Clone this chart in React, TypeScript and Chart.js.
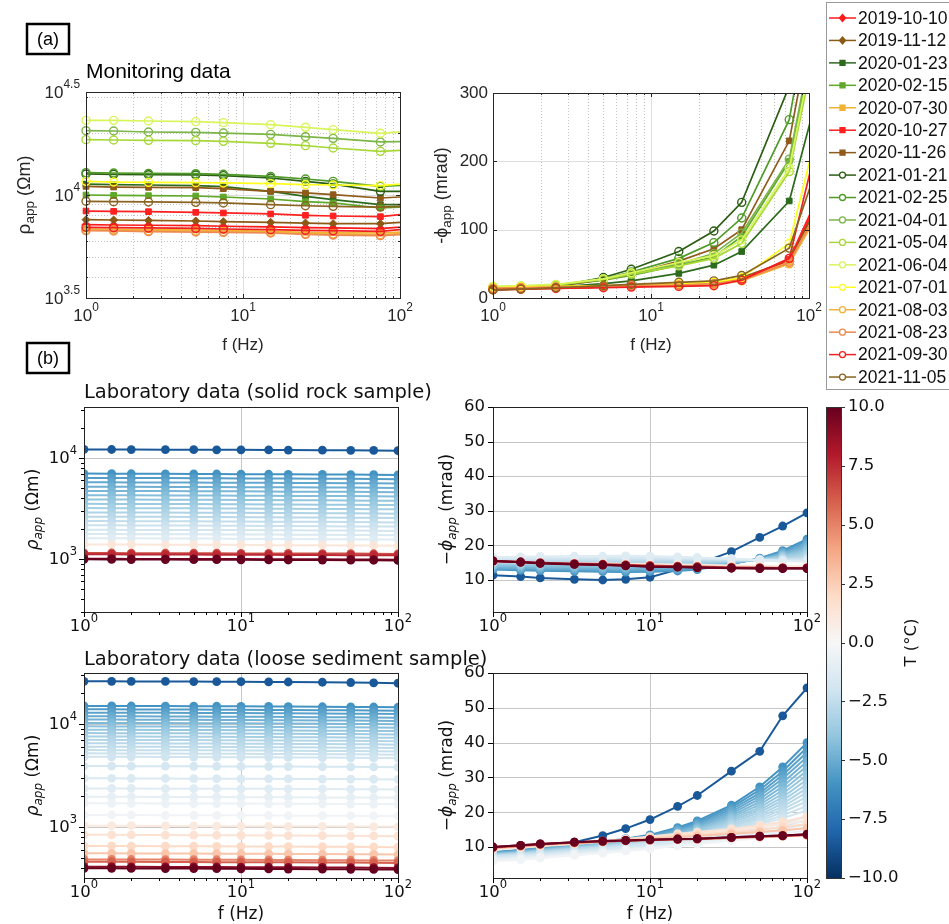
import React, { useEffect, useRef } from 'react';
import { Chart, registerables } from 'chart.js';
Chart.register(...registerables);

const W = 949;
const H = 924;

// ---------------- (a) Monitoring data ----------------
const MON_FREQ = [1, 1.5, 2.5, 5, 7.5, 15, 25, 37.5, 75, 150];
const MON_DATES = ['2019-10-10', '2019-11-12', '2020-01-23', '2020-02-15', '2020-07-30', '2020-10-27', '2020-11-26', '2021-01-21', '2021-02-25', '2021-04-01', '2021-05-04', '2021-06-04', '2021-07-01', '2021-08-03', '2021-08-23', '2021-09-30', '2021-11-05'];
const MON_RHO = [
  [7180, 7150, 7130, 7100, 7050, 7000, 6940, 6920, 6870, 7130],
  [7590, 7560, 7530, 7480, 7420, 7370, 7310, 7260, 7260, 7530],
  [11300, 11220, 11180, 11100, 10970, 10420, 9850, 9490, 8980, 8980],
  [10000, 9960, 9930, 9890, 9780, 9560, 9280, 9150, 8650, 8870],
  [6840, 6820, 6790, 6760, 6740, 6660, 6590, 6570, 6540, 6710],
  [8360, 8330, 8300, 8240, 8180, 8090, 7970, 7910, 7850, 8270],
  [11010, 10930, 10890, 10850, 10730, 10420, 10230, 10040, 9670, 9930],
  [12650, 12600, 12550, 12510, 12420, 12090, 11650, 11300, 10420, 10420],
  [12840, 12790, 12740, 12690, 12600, 12320, 11960, 11650, 11010, 11300],
  [20520, 20450, 20220, 20140, 19990, 19700, 19190, 18840, 18090, 18250],
  [18560, 18490, 18420, 18360, 18220, 17820, 17360, 16910, 16290, 16720],
  [23040, 23040, 22870, 22700, 22450, 21950, 21310, 20760, 19930, 20680],
  [11650, 11560, 11520, 11480, 11440, 11350, 11220, 11180, 11100, 11560],
  [6790, 6760, 6710, 6690, 6640, 6590, 6490, 6470, 6420, 6610],
  [6710, 6690, 6640, 6610, 6590, 6540, 6440, 6390, 6350, 6540],
  [6970, 6940, 6920, 6890, 6840, 6790, 6740, 6710, 6660, 6970],
  [9320, 9280, 9250, 9210, 9150, 8980, 8870, 8810, 8740, 8910],
];
const MON_PHI = [
  [13, 14, 15, 16, 17, 18, 20, 27, 55, 199],
  [12, 13, 14, 16, 17, 19, 22, 30, 55, 188],
  [13, 14, 16, 21, 25, 36, 48, 68, 142, 404],
  [15, 16, 18, 26, 33, 48, 60, 90, 200, 540],
  [14, 15, 16, 17, 18, 19, 21, 28, 52, 174],
  [13, 14, 15, 16, 17, 18, 19, 27, 57, 208],
  [13, 14, 17, 27, 35, 54, 72, 100, 230, 600],
  [12, 14, 17, 30, 42, 68, 98, 140, 310, 700],
  [14, 15, 18, 28, 38, 58, 81, 117, 261, 650],
  [16, 17, 19, 28, 36, 50, 65, 95, 203, 560],
  [16, 17, 19, 27, 35, 47, 58, 80, 185, 520],
  [17, 18, 20, 28, 37, 52, 62, 85, 190, 540],
  [15, 16, 17, 18, 19, 21, 23, 30, 80, 361],
  [14, 15, 16, 17, 18, 18, 20, 25, 50, 170],
  [14, 15, 16, 17, 18, 19, 21, 26, 52, 180],
  [12, 13, 14, 15, 16, 17, 18, 26, 58, 346],
  [12, 13, 15, 18, 20, 23, 25, 33, 73, 277],
];
// styles
const MON_COLORS = ['#ff1a1a', '#8c5a14', '#2d6a1e', '#5fa82a', '#f2b233', '#ff2020', '#8f5a1a', '#2b5e14', '#4f9a28', '#7cb548', '#a8d838', '#d8f55a', '#ffff1f', '#f0b33a', '#ee8a50', '#f02020', '#8a6420'];
const MON_MARKERS = ['rectRot', 'rectRot', 'rect', 'rect', 'rect', 'rect', 'rect', 'circle', 'circle', 'circle', 'circle', 'circle', 'circle', 'circle', 'circle', 'circle', 'circle'];

// ---------------- (b) Laboratory data ----------------
const LAB_FREQ = [1, 1.5, 2, 3.3, 5, 7, 10, 15, 20, 33, 50, 70, 100];

const SOLID_TEMP = [-8.5, -6.0, -5.6, -5.2, -4.9, -4.6, -4.3, -4.0, -3.7, -3.4, -3.1, -2.8, -2.5, -2.2, -1.9, -1.6, -1.2, 1.2, 6.5, 7.5, 9.5, 10.0];
const SOLID_RHO = [
  [12150, 12140, 12120, 12100, 12080, 12060, 12040, 12010, 11990, 11950, 11910, 11870, 11800],
  [7000, 6990, 6980, 6970, 6950, 6940, 6920, 6900, 6890, 6870, 6850, 6830, 6800],
  [6350, 6340, 6330, 6320, 6310, 6290, 6280, 6260, 6250, 6230, 6210, 6190, 6170],
  [5750, 5740, 5730, 5720, 5710, 5700, 5690, 5670, 5660, 5640, 5620, 5610, 5580],
  [5200, 5190, 5180, 5170, 5160, 5150, 5140, 5130, 5120, 5100, 5090, 5070, 5050],
  [4720, 4710, 4700, 4700, 4690, 4680, 4670, 4650, 4640, 4630, 4620, 4600, 4580],
  [4280, 4270, 4270, 4260, 4250, 4240, 4230, 4220, 4210, 4200, 4190, 4170, 4160],
  [3880, 3870, 3870, 3860, 3850, 3850, 3840, 3830, 3820, 3810, 3800, 3780, 3770],
  [3520, 3510, 3510, 3500, 3500, 3490, 3480, 3470, 3460, 3450, 3440, 3430, 3420],
  [3190, 3180, 3180, 3170, 3170, 3160, 3160, 3150, 3140, 3130, 3120, 3110, 3100],
  [2890, 2890, 2880, 2880, 2870, 2870, 2860, 2850, 2850, 2840, 2830, 2820, 2810],
  [2620, 2620, 2610, 2610, 2600, 2600, 2590, 2590, 2580, 2570, 2560, 2560, 2550],
  [2370, 2370, 2360, 2360, 2360, 2350, 2350, 2340, 2340, 2330, 2320, 2310, 2300],
  [2150, 2150, 2140, 2140, 2140, 2130, 2130, 2120, 2120, 2110, 2100, 2100, 2090],
  [1950, 1950, 1940, 1940, 1940, 1930, 1930, 1920, 1920, 1910, 1910, 1900, 1890],
  [1770, 1770, 1760, 1760, 1760, 1750, 1750, 1750, 1740, 1740, 1730, 1730, 1720],
  [1600, 1600, 1600, 1590, 1590, 1590, 1580, 1580, 1580, 1570, 1570, 1560, 1560],
  [1390, 1390, 1390, 1380, 1380, 1380, 1380, 1370, 1370, 1370, 1360, 1360, 1350],
  [1145, 1145, 1140, 1140, 1140, 1140, 1135, 1135, 1135, 1130, 1130, 1125, 1120],
  [1110, 1110, 1105, 1105, 1105, 1100, 1100, 1100, 1095, 1095, 1090, 1090, 1085],
  [1005, 1005, 1000, 1000, 1000, 998, 996, 994, 992, 990, 988, 985, 980],
  [990, 988, 986, 985, 984, 982, 980, 978, 976, 974, 972, 970, 966],
];
const SOLID_PHI = [
  [11.4, 11.0, 10.6, 10.2, 10.0, 10.2, 10.8, 13.0, 14.6, 18.2, 22.3, 25.6, 29.4],
  [13.0, 12.8, 12.7, 12.5, 12.4, 12.3, 12.4, 12.6, 13.0, 14.6, 16.3, 18.5, 21.8],
  [13.2, 13.1, 12.9, 12.8, 12.7, 12.6, 12.7, 12.9, 13.3, 14.7, 16.2, 18.2, 21.2],
  [13.5, 13.3, 13.2, 13.1, 13.0, 12.9, 13.0, 13.2, 13.5, 14.8, 16.1, 17.9, 20.6],
  [13.7, 13.6, 13.5, 13.4, 13.3, 13.2, 13.3, 13.5, 13.8, 14.9, 16.0, 17.6, 20.0],
  [14.0, 13.9, 13.8, 13.7, 13.6, 13.5, 13.6, 13.8, 14.1, 15.0, 16.0, 17.4, 19.5],
  [14.2, 14.1, 14.0, 14.0, 13.9, 13.9, 13.9, 14.1, 14.3, 15.1, 15.9, 17.1, 19.0],
  [14.4, 14.4, 14.3, 14.3, 14.2, 14.2, 14.2, 14.4, 14.6, 15.2, 15.9, 16.9, 18.5],
  [14.7, 14.6, 14.6, 14.6, 14.5, 14.5, 14.6, 14.7, 14.9, 15.3, 15.9, 16.7, 18.0],
  [14.9, 14.9, 14.9, 14.9, 14.9, 14.9, 14.9, 15.0, 15.1, 15.4, 15.8, 16.5, 17.5],
  [15.2, 15.2, 15.2, 15.2, 15.2, 15.2, 15.2, 15.3, 15.4, 15.5, 15.8, 16.3, 17.1],
  [15.4, 15.5, 15.5, 15.5, 15.5, 15.5, 15.5, 15.6, 15.6, 15.6, 15.8, 16.1, 16.7],
  [15.6, 15.7, 15.8, 15.8, 15.8, 15.8, 15.8, 15.9, 15.9, 15.8, 15.8, 15.9, 16.3],
  [15.9, 16.0, 16.1, 16.1, 16.1, 16.2, 16.1, 16.1, 16.1, 15.9, 15.7, 15.8, 16.0],
  [16.1, 16.2, 16.3, 16.4, 16.4, 16.5, 16.4, 16.3, 16.2, 16.0, 15.7, 15.6, 15.7],
  [16.4, 16.5, 16.6, 16.7, 16.7, 16.8, 16.7, 16.5, 16.4, 16.1, 15.7, 15.5, 15.5],
  [16.6, 16.7, 16.8, 16.9, 16.9, 17.0, 16.9, 16.7, 16.5, 16.2, 15.8, 15.5, 15.3],
  [15.2, 15.1, 15.0, 14.9, 14.8, 14.7, 14.6, 14.5, 14.4, 14.2, 14.1, 14.0, 14.0],
  [15.4, 15.2, 15.0, 14.8, 14.6, 14.4, 14.2, 14.0, 13.9, 13.7, 13.6, 13.5, 13.5],
  [15.5, 15.2, 14.9, 14.6, 14.4, 14.2, 14.0, 13.8, 13.7, 13.5, 13.4, 13.4, 13.4],
  [15.5, 15.2, 14.9, 14.6, 14.4, 14.2, 13.9, 13.8, 13.6, 13.5, 13.4, 13.4, 13.4],
  [15.5, 15.1, 14.8, 14.5, 14.3, 14.1, 13.8, 13.7, 13.6, 13.4, 13.3, 13.3, 13.3],
];

const LOOSE_TEMP = [-8.5, -6.0, -5.7, -5.4, -5.1, -4.8, -4.5, -4.2, -3.9, -3.6, -3.3, -3.0, -2.8, -2.6, -2.4, -2.2, -2.0, -1.8, -1.5, -1.2, -0.9, -0.6, -0.3, 1.0, 1.5, 2.0, 2.8, 5.0, 6.0, 9.0, 10.0];
const LOOSE_RHO = [
  [26000, 26000, 25950, 25900, 25850, 25800, 25750, 25650, 25600, 25450, 25300, 25150, 24900],
  [15000, 14990, 14970, 14940, 14910, 14880, 14850, 14810, 14780, 14720, 14670, 14630, 14550],
  [13900, 13890, 13870, 13840, 13820, 13790, 13760, 13720, 13690, 13640, 13590, 13550, 13480],
  [12900, 12890, 12870, 12850, 12820, 12800, 12770, 12730, 12710, 12650, 12620, 12580, 12510],
  [11900, 11890, 11880, 11850, 11830, 11800, 11780, 11750, 11720, 11670, 11640, 11600, 11540],
  [11050, 11040, 11030, 11010, 10980, 10960, 10940, 10910, 10880, 10840, 10810, 10770, 10720],
  [10250, 10240, 10230, 10210, 10190, 10170, 10150, 10120, 10100, 10060, 10020, 9990, 9940],
  [9500, 9490, 9480, 9460, 9440, 9420, 9410, 9380, 9360, 9320, 9290, 9260, 9220],
  [8800, 8790, 8780, 8760, 8750, 8730, 8710, 8690, 8670, 8630, 8610, 8580, 8540],
  [8170, 8160, 8150, 8140, 8120, 8100, 8090, 8060, 8050, 8010, 7990, 7970, 7920],
  [7570, 7560, 7550, 7540, 7520, 7510, 7490, 7470, 7460, 7430, 7400, 7380, 7340],
  [7020, 7010, 7010, 6990, 6980, 6960, 6950, 6930, 6910, 6890, 6870, 6840, 6810],
  [6510, 6500, 6500, 6480, 6470, 6460, 6440, 6430, 6410, 6390, 6370, 6350, 6310],
  [6030, 6020, 6020, 6010, 5990, 5980, 5970, 5950, 5940, 5920, 5900, 5880, 5850],
  [5590, 5580, 5580, 5570, 5560, 5550, 5530, 5520, 5510, 5480, 5470, 5450, 5420],
  [5190, 5180, 5180, 5170, 5160, 5150, 5140, 5120, 5110, 5090, 5080, 5060, 5030],
  [4810, 4810, 4800, 4790, 4780, 4770, 4760, 4750, 4740, 4720, 4700, 4690, 4670],
  [3910, 3910, 3900, 3900, 3890, 3880, 3880, 3870, 3860, 3850, 3840, 3830, 3810],
  [2970, 2970, 2960, 2960, 2950, 2950, 2940, 2940, 2930, 2920, 2920, 2910, 2900],
  [2370, 2370, 2370, 2360, 2360, 2360, 2350, 2350, 2340, 2340, 2330, 2330, 2320],
  [1970, 1970, 1970, 1960, 1960, 1960, 1950, 1950, 1950, 1940, 1940, 1930, 1930],
  [1700, 1700, 1700, 1690, 1690, 1690, 1690, 1680, 1680, 1680, 1670, 1670, 1660],
  [1310, 1310, 1310, 1300, 1300, 1300, 1300, 1300, 1290, 1290, 1290, 1280, 1280],
  [1030, 1030, 1030, 1025, 1025, 1020, 1020, 1020, 1015, 1015, 1010, 1010, 1005],
  [840, 840, 838, 836, 834, 832, 830, 828, 826, 824, 822, 820, 816],
  [655, 655, 654, 652, 651, 650, 648, 647, 646, 644, 642, 640, 637],
  [555, 555, 554, 553, 552, 551, 550, 549, 548, 546, 545, 543, 540],
  [485, 485, 484, 483, 482, 481, 480, 479, 478, 477, 476, 474, 472],
  [460, 460, 459, 458, 457, 456, 455, 455, 454, 453, 452, 450, 448],
  [412, 412, 411, 410, 410, 409, 408, 407, 406, 405, 404, 403, 401],
  [397, 397, 396, 395, 395, 394, 393, 392, 391, 390, 389, 388, 386],
];
const LOOSE_PHI = [
  [9.4, 10.0, 10.5, 11.4, 13.3, 15.3, 17.9, 21.7, 24.8, 31.8, 37.5, 47.7, 55.7],
  [8.5, 9.2, 9.7, 10.7, 11.6, 12.4, 13.5, 15.6, 17.5, 22.0, 27.3, 33.0, 40.0],
  [8.4, 9.1, 9.6, 10.6, 11.5, 12.3, 13.3, 15.3, 17.1, 21.4, 26.4, 31.8, 38.6],
  [8.3, 9.0, 9.5, 10.5, 11.3, 12.1, 13.1, 15.0, 16.7, 20.8, 25.5, 30.7, 37.2],
  [8.2, 8.9, 9.4, 10.4, 11.2, 12.0, 12.9, 14.7, 16.3, 20.2, 24.7, 29.6, 35.9],
  [8.2, 8.8, 9.3, 10.3, 11.1, 11.8, 12.7, 14.4, 15.9, 19.6, 23.8, 28.5, 34.6],
  [8.1, 8.6, 9.2, 10.2, 10.9, 11.6, 12.5, 14.1, 15.6, 19.0, 23.0, 27.4, 33.3],
  [8.0, 8.5, 9.1, 10.0, 10.8, 11.5, 12.3, 13.9, 15.2, 18.5, 22.2, 26.3, 32.0],
  [7.9, 8.4, 9.0, 9.9, 10.7, 11.3, 12.1, 13.6, 14.9, 18.0, 21.4, 25.3, 30.7],
  [7.8, 8.3, 8.9, 9.8, 10.5, 11.2, 11.9, 13.4, 14.6, 17.5, 20.7, 24.3, 29.4],
  [7.7, 8.2, 8.7, 9.6, 10.4, 11.0, 11.8, 13.1, 14.3, 17.0, 20.0, 23.4, 28.1],
  [7.6, 8.1, 8.6, 9.5, 10.2, 10.9, 11.6, 12.9, 14.0, 16.5, 19.3, 22.5, 26.9],
  [7.6, 8.0, 8.5, 9.4, 10.1, 10.7, 11.5, 12.7, 13.8, 16.1, 18.7, 21.6, 25.7],
  [7.5, 7.9, 8.4, 9.2, 9.9, 10.6, 11.3, 12.6, 13.6, 15.8, 18.1, 20.8, 24.4],
  [7.4, 7.8, 8.3, 9.1, 9.8, 10.5, 11.2, 12.4, 13.4, 15.4, 17.5, 20.0, 23.2],
  [7.3, 7.7, 8.1, 8.9, 9.6, 10.3, 11.1, 12.3, 13.2, 15.1, 17.0, 19.1, 21.8],
  [7.2, 7.6, 8.0, 8.8, 9.5, 10.2, 11.0, 12.2, 13.0, 14.8, 16.5, 18.3, 20.5],
  [7.0, 7.4, 7.8, 8.6, 9.2, 9.9, 10.6, 11.6, 12.4, 13.9, 15.4, 16.9, 18.8],
  [6.8, 7.2, 7.6, 8.4, 9.0, 9.6, 10.3, 11.3, 12.0, 13.4, 14.7, 16.0, 17.6],
  [6.6, 7.0, 7.4, 8.2, 8.8, 9.4, 10.1, 11.0, 11.6, 12.9, 14.0, 15.2, 16.5],
  [6.4, 6.8, 7.2, 8.0, 8.6, 9.2, 9.9, 10.7, 11.3, 12.5, 13.4, 14.5, 15.6],
  [6.2, 6.6, 7.0, 7.8, 8.4, 9.0, 9.7, 10.5, 11.0, 12.1, 12.9, 13.8, 14.8],
  [6.0, 6.3, 6.8, 7.6, 8.2, 8.8, 9.5, 10.3, 10.8, 11.8, 12.5, 13.2, 14.0],
  [9.3, 9.8, 10.2, 10.9, 11.5, 12.1, 12.7, 13.4, 13.9, 14.8, 15.7, 16.6, 17.8],
  [9.5, 10.0, 10.4, 11.0, 11.7, 12.3, 13.0, 13.8, 14.3, 15.2, 16.2, 17.3, 18.8],
  [9.6, 10.1, 10.5, 11.1, 11.6, 12.1, 12.6, 13.2, 13.6, 14.3, 15.0, 15.7, 16.6],
  [9.7, 10.2, 10.6, 11.2, 11.6, 12.0, 12.4, 12.9, 13.2, 13.8, 14.3, 14.8, 15.4],
  [9.8, 10.3, 10.7, 11.2, 11.5, 11.8, 12.0, 12.2, 12.3, 12.6, 12.9, 13.1, 13.4],
  [9.9, 10.4, 10.8, 11.3, 11.6, 11.8, 12.0, 12.2, 12.3, 12.7, 13.0, 13.2, 13.5],
  [10.0, 10.5, 10.9, 11.4, 11.7, 11.9, 12.1, 12.3, 12.4, 12.8, 13.1, 13.3, 13.6],
  [10.0, 10.5, 10.9, 11.4, 11.7, 11.9, 12.1, 12.3, 12.4, 12.8, 13.1, 13.3, 13.7],
];

// ---------------- ticks ----------------
const X_MAJOR = [1, 10, 100];
const X_EXP = ['0', '1', '2'];
const X_MINOR = [2, 3, 4, 5, 6, 7, 8, 9, 20, 30, 40, 50, 60, 70, 80, 90];
const A_RHO_MAJOR = [Math.pow(10, 3.5), 1e4, Math.pow(10, 4.5)];
const A_RHO_EXP = ['3.5', '4', '4.5'];
const A_RHO_MINOR = [4000, 5000, 6000, 7000, 8000, 9000, 20000, 30000];
const A_PHI_TICKS = [0, 100, 200, 300];
const LAB_RHO_MAJOR = [1e3, 1e4];
const LAB_RHO_EXP = ['3', '4'];
const LAB_RHO_MINOR = [300, 400, 500, 600, 700, 800, 900, 2000, 3000, 4000, 5000, 6000, 7000, 8000, 9000, 20000, 30000];
const LAB_PHI_TICKS = [10, 20, 30, 40, 50, 60];
const CBAR_TICKS = [10, 7.5, 5, 2.5, 0, -2.5, -5, -7.5, -10];

// ---------------- helpers ----------------
const MAT = '"Liberation Sans", Arial, Helvetica, sans-serif';
const MPL = '"DejaVu Sans", Verdana, sans-serif';
const RDBU_R = ['#053061', '#2166ac', '#4393c3', '#92c5de', '#d1e5f0', '#f7f7f7', '#fddbc7', '#f4a582', '#d6604d', '#b2182b', '#67001f'];

function hexRgb(h: string) {
  return [parseInt(h.slice(1, 3), 16), parseInt(h.slice(3, 5), 16), parseInt(h.slice(5, 7), 16)];
}
function cmap(T: number) {
  const t = Math.min(1, Math.max(0, (T + 10) / 20)) * 10;
  const i = Math.min(9, Math.floor(t));
  const f = t - i;
  const a = hexRgb(RDBU_R[i]);
  const b = hexRgb(RDBU_R[i + 1]);
  const c = a.map((v, k) => Math.round(v + (b[k] - v) * f));
  return `rgb(${c[0]},${c[1]},${c[2]})`;
}

type Part = { t: string; s: number; it?: boolean; dy?: number };
function drawParts(ctx: CanvasRenderingContext2D, parts: Part[], fam: string, x: number, y: number, align: 'left' | 'center' | 'right', rot = 0, color = '#000') {
  ctx.save();
  ctx.translate(x, y);
  if (rot) ctx.rotate(rot);
  ctx.fillStyle = color;
  ctx.textBaseline = 'middle';
  ctx.textAlign = 'left';
  const fnt = (p: Part) => `${p.it ? 'italic ' : ''}${p.s}px ${fam}`;
  const ws = parts.map((p) => { ctx.font = fnt(p); return ctx.measureText(p.t).width; });
  const tot = ws.reduce((a, b) => a + b, 0);
  let cx = align === 'left' ? 0 : align === 'center' ? -tot / 2 : -tot;
  parts.forEach((p, i) => { ctx.font = fnt(p); ctx.fillText(p.t, cx, p.dy || 0); cx += ws[i]; });
  ctx.restore();
}
const pow10 = (e: string, s: number): Part[] => [{ t: '10', s }, { t: e, s: s * 0.7, dy: -s * 0.48 }];

function gridLines(chart: any, axis: 'x' | 'y', values: number[], color: string, width: number, dash: number[]) {
  const { ctx, chartArea: a } = chart;
  const s = chart.scales[axis];
  ctx.save();
  ctx.strokeStyle = color;
  ctx.lineWidth = width;
  ctx.setLineDash(dash);
  for (const v of values) {
    const p = Math.round(s.getPixelForValue(v)) + 0.5;
    ctx.beginPath();
    if (axis === 'x') { ctx.moveTo(p, a.top); ctx.lineTo(p, a.bottom); } else { ctx.moveTo(a.left, p); ctx.lineTo(a.right, p); }
    ctx.stroke();
  }
  ctx.restore();
}
function tickMarks(chart: any, axis: 'x' | 'y', values: number[], len: number, inward: boolean, both: boolean, color: string) {
  const { ctx, chartArea: a } = chart;
  const s = chart.scales[axis];
  ctx.save();
  ctx.strokeStyle = color;
  ctx.lineWidth = 1;
  ctx.setLineDash([]);
  ctx.beginPath();
  for (const v of values) {
    const p = Math.round(s.getPixelForValue(v)) + 0.5;
    if (axis === 'x') {
      const d = inward ? -len : len;
      ctx.moveTo(p, a.bottom); ctx.lineTo(p, a.bottom + d);
      if (both) { ctx.moveTo(p, a.top); ctx.lineTo(p, a.top - d); }
    } else {
      const d = inward ? len : -len;
      ctx.moveTo(a.left, p); ctx.lineTo(a.left + d, p);
      if (both) { ctx.moveTo(a.right, p); ctx.lineTo(a.right - d, p); }
    }
  }
  ctx.stroke();
  ctx.restore();
}
function frame(chart: any, color: string, w: number) {
  const { ctx, chartArea: a } = chart;
  ctx.save();
  ctx.strokeStyle = color;
  ctx.lineWidth = w;
  ctx.setLineDash([]);
  ctx.strokeRect(Math.round(a.left) + 0.5, Math.round(a.top) + 0.5, Math.round(a.right - a.left), Math.round(a.bottom - a.top));
  ctx.restore();
}
function labelBox(ctx: CanvasRenderingContext2D, txt: string, x0: number, y0: number, x1: number, y1: number) {
  ctx.save();
  ctx.strokeStyle = '#000';
  ctx.lineWidth = 2.5;
  ctx.strokeRect(x0, y0, x1 - x0, y1 - y0);
  ctx.restore();
  drawParts(ctx, [{ t: txt, s: 18 }], MAT, (x0 + x1) / 2, (y0 + y1) / 2 + 1, 'center');
}
function marker(ctx: CanvasRenderingContext2D, style: string, x: number, y: number, color: string) {
  ctx.save();
  ctx.strokeStyle = color;
  ctx.fillStyle = color;
  ctx.lineWidth = 1.3;
  ctx.beginPath();
  if (style === 'circle') { ctx.arc(x, y, 3, 0, Math.PI * 2); ctx.fillStyle = '#fff'; ctx.fill(); ctx.stroke(); }
  else if (style === 'rect') { ctx.rect(x - 2.5, y - 2.5, 5, 5); ctx.fill(); ctx.stroke(); }
  else { ctx.moveTo(x, y - 3.5); ctx.lineTo(x + 3, y); ctx.lineTo(x, y + 3.5); ctx.lineTo(x - 3, y); ctx.closePath(); ctx.fill(); ctx.stroke(); }
  ctx.restore();
}

// ---------------- datasets ----------------
function monDatasets(rows: number[][], clip: any) {
  const n = rows.length;
  return rows.map((row, i) => {
    const c = MON_COLORS[i];
    const open = MON_MARKERS[i] === 'circle';
    return {
      label: MON_DATES[i],
      data: MON_FREQ.map((f, j) => ({ x: f, y: row[j] })),
      borderColor: c,
      backgroundColor: c,
      borderWidth: 1.7,
      pointStyle: MON_MARKERS[i],
      pointRadius: open ? 4 : 4,
      pointBorderWidth: open ? 1.4 : 1,
      pointBackgroundColor: open ? 'rgba(255,255,255,0)' : c,
      pointBorderColor: c,
      tension: 0,
      order: n - i,
      clip,
    };
  });
}
function labDatasets(temps: number[], rows: number[][]) {
  const n = rows.length;
  return rows.map((row, i) => {
    const c = cmap(temps[i]);
    return {
      label: `${temps[i]} °C`,
      data: LAB_FREQ.map((f, j) => ({ x: f, y: row[j] })),
      borderColor: c,
      backgroundColor: c,
      pointBackgroundColor: c,
      pointBorderColor: c,
      borderWidth: 2,
      pointRadius: 4.4,
      pointBorderWidth: 0,
      pointStyle: 'circle',
      tension: 0,
      order: n - i,
      clip: 0,
    };
  });
}

function makeConfig(area: number[], yType: string, yMin: number, yMax: number, datasets: any[], before: (c: any) => void, after: (c: any) => void) {
  const [l, t, r, b] = area;
  return {
    type: 'line',
    data: { datasets },
    options: {
      responsive: false,
      animation: false,
      devicePixelRatio: 1,
      events: [],
      layout: { padding: { left: l, top: t, right: W - r, bottom: H - b } },
      scales: {
        x: { type: 'logarithmic', min: 1, max: 100, display: false },
        y: { type: yType, min: yMin, max: yMax, display: false },
      },
      plugins: { legend: { display: false }, tooltip: { enabled: false }, title: { display: false } },
    },
    plugins: [{ id: 'decor', beforeDatasetsDraw: (c: any) => before(c), afterDatasetsDraw: (c: any) => after(c) }],
  };
}

// ---------------- panel decorations ----------------
const MAT_MAJOR_GRID = '#dedede';
const MAT_MINOR_GRID = '#c4c4c4';
const MAT_AX = '#262626';
const MPL_GRID = '#c6c6c6';

function matXAxis(chart: any) {
  const { ctx, chartArea: a } = chart;
  tickMarks(chart, 'x', X_MAJOR, 4, true, true, MAT_AX);
  tickMarks(chart, 'x', X_MINOR, 2, true, true, MAT_AX);
  X_MAJOR.forEach((v, i) => drawParts(ctx, pow10(X_EXP[i], 17), MAT, chart.scales.x.getPixelForValue(v), a.bottom + 18, 'center', 0, MAT_AX));
  drawParts(ctx, [{ t: 'f (Hz)', s: 17 }], MAT, (a.left + a.right) / 2, 345, 'center', 0, MAT_AX);
}
function mplXAxis(chart: any, withLabel: boolean) {
  const { ctx, chartArea: a } = chart;
  tickMarks(chart, 'x', X_MAJOR, 5, false, false, '#000');
  tickMarks(chart, 'x', X_MINOR, 3, false, false, '#000');
  X_MAJOR.forEach((v, i) => drawParts(ctx, pow10(X_EXP[i], 16.5), MPL, chart.scales.x.getPixelForValue(v), a.bottom + 15, 'center', 0, '#111'));
  if (withLabel) drawParts(ctx, [{ t: 'f (Hz)', s: 17 }], MPL, (a.left + a.right) / 2, 915, 'center', 0, '#111');
}

function drawLegend(ctx: CanvasRenderingContext2D) {
  ctx.save();
  ctx.fillStyle = '#fff';
  ctx.fillRect(826.5, 2.5, 130, 387);
  ctx.strokeStyle = '#9a9a9a';
  ctx.lineWidth = 1;
  ctx.strokeRect(826.5, 2.5, 130, 387);
  ctx.restore();
  MON_DATES.forEach((d, i) => {
    const y = 18 + i * 22.44;
    ctx.save();
    ctx.strokeStyle = MON_COLORS[i];
    ctx.lineWidth = 1.5;
    ctx.beginPath();
    ctx.moveTo(829, y); ctx.lineTo(856, y);
    ctx.stroke();
    ctx.restore();
    marker(ctx, MON_MARKERS[i], 842.5, y, MON_COLORS[i]);
    drawParts(ctx, [{ t: d, s: 17.5 }], MAT, 858, y + 1, 'left', 0, '#111');
  });
}

function drawColorbar(ctx: CanvasRenderingContext2D) {
  const top = 407, bot = 878, left = 826, right = 841;
  const g = ctx.createLinearGradient(0, top, 0, bot);
  for (let k = 0; k <= 10; k++) g.addColorStop(k / 10, RDBU_R[10 - k]);
  ctx.save();
  ctx.fillStyle = g;
  ctx.fillRect(left, top, right - left, bot - top);
  ctx.strokeStyle = '#333';
  ctx.lineWidth = 1;
  ctx.strokeRect(left + 0.5, top + 0.5, right - left, bot - top);
  ctx.beginPath();
  for (const v of CBAR_TICKS) {
    const y = Math.round(bot - ((v + 10) / 20) * (bot - top)) + 0.5;
    ctx.moveTo(right, y); ctx.lineTo(right + 4, y);
  }
  ctx.stroke();
  ctx.restore();
  for (const v of CBAR_TICKS) {
    const y = bot - ((v + 10) / 20) * (bot - top);
    const txt = (v < 0 ? '\u2212' : '') + Math.abs(v).toFixed(1);
    drawParts(ctx, [{ t: txt, s: 16.5 }], MPL, right + 7, y, 'left', 0, '#111');
  }
  drawParts(ctx, [{ t: 'T (°C)', s: 16.5 }], MPL, 912, (top + bot) / 2, 'center', -Math.PI / 2, '#111');
}

const A1 = [86, 92, 400, 298];
const A2 = [493, 93, 809, 298];
const B1 = [84, 407, 398, 612];
const B2 = [493, 407, 807, 612];
const C1 = [84, 673, 398, 878];
const C2 = [493, 673, 807, 878];

function configA1() {
  return makeConfig(A1, 'logarithmic', Math.pow(10, 3.5), Math.pow(10, 4.5), monDatasets(MON_RHO, { left: 6, top: 6, right: 0, bottom: 6 }),
    (c) => {
      gridLines(c, 'x', X_MINOR, MAT_MINOR_GRID, 1, [1, 2]);
      gridLines(c, 'y', A_RHO_MINOR, MAT_MINOR_GRID, 1, [1, 2]);
      gridLines(c, 'x', [10], MAT_MAJOR_GRID, 1, []);
      gridLines(c, 'y', [1e4], MAT_MAJOR_GRID, 1, []);
    },
    (c) => {
      const { ctx, chartArea: a } = c;
      frame(c, MAT_AX, 1);
      tickMarks(c, 'y', A_RHO_MAJOR, 4, true, true, MAT_AX);
      tickMarks(c, 'y', A_RHO_MINOR, 2, true, true, MAT_AX);
      A_RHO_MAJOR.forEach((v, i) => drawParts(ctx, pow10(A_RHO_EXP[i], 17), MAT, a.left - 6, c.scales.y.getPixelForValue(v) + 1, 'right', 0, MAT_AX));
      matXAxis(c);
      drawParts(ctx, [{ t: 'ρ', s: 19 }, { t: 'app', s: 13.5, dy: 5 }, { t: ' (Ωm)', s: 18 }], MAT, 25, (a.top + a.bottom) / 2, 'center', -Math.PI / 2, MAT_AX);
      drawParts(ctx, [{ t: 'Monitoring data', s: 21 }], MAT, a.left, 72, 'left', 0, '#000');
      labelBox(ctx, '(a)', 27, 24, 69, 54);
    });
}
function configA2() {
  return makeConfig(A2, 'linear', 0, 300, monDatasets(MON_PHI, { left: 6, top: 0, right: 0, bottom: 6 }),
    (c) => {
      gridLines(c, 'x', X_MINOR, MAT_MINOR_GRID, 1, [1, 2]);
      gridLines(c, 'x', [10], MAT_MAJOR_GRID, 1, []);
      gridLines(c, 'y', [100, 200], MAT_MAJOR_GRID, 1, []);
    },
    (c) => {
      const { ctx, chartArea: a } = c;
      frame(c, MAT_AX, 1);
      tickMarks(c, 'y', A_PHI_TICKS, 4, true, true, MAT_AX);
      A_PHI_TICKS.forEach((v) => drawParts(ctx, [{ t: String(v), s: 17 }], MAT, a.left - 5, c.scales.y.getPixelForValue(v), 'right', 0, MAT_AX));
      matXAxis(c);
      drawParts(ctx, [{ t: '-ϕ', s: 18 }, { t: 'app', s: 13.5, dy: 5 }, { t: ' (mrad)', s: 18 }], MAT, 442, (a.top + a.bottom) / 2, 'center', -Math.PI / 2, MAT_AX);
      drawLegend(ctx);
    });
}
function labRho(area: number[], temps: number[], rows: number[][], yMin: number, yMax: number, title: string, titleY: number, withXLabel: boolean, box: boolean) {
  return makeConfig(area, 'logarithmic', yMin, yMax, labDatasets(temps, rows),
    (c) => {
      gridLines(c, 'x', [10], MPL_GRID, 1, []);
      gridLines(c, 'y', LAB_RHO_MAJOR, MPL_GRID, 1, []);
    },
    (c) => {
      const { ctx, chartArea: a } = c;
      frame(c, '#222', 1);
      tickMarks(c, 'y', LAB_RHO_MAJOR, 5, false, false, '#000');
      tickMarks(c, 'y', LAB_RHO_MINOR.filter((v) => v > yMin && v < yMax), 3, false, false, '#000');
      LAB_RHO_MAJOR.forEach((v, i) => drawParts(ctx, pow10(LAB_RHO_EXP[i], 16.5), MPL, a.left - 7, c.scales.y.getPixelForValue(v) + 1, 'right', 0, '#111'));
      mplXAxis(c, withXLabel);
      drawParts(ctx, [{ t: 'ρ', s: 17, it: true }, { t: 'app', s: 12, it: true, dy: 5 }, { t: ' (Ωm)', s: 17 }], MPL, 34, (a.top + a.bottom) / 2, 'center', -Math.PI / 2, '#111');
      drawParts(ctx, [{ t: title, s: 19.5 }], MPL, a.left, titleY, 'left', 0, '#111');
      if (box) labelBox(ctx, '(b)', 27, 343, 69, 373);
    });
}
function labPhi(area: number[], temps: number[], rows: number[][], yMin: number, withXLabel: boolean, cbar: boolean) {
  return makeConfig(area, 'linear', yMin, 60, labDatasets(temps, rows),
    (c) => {
      gridLines(c, 'x', [10], MPL_GRID, 1, []);
      gridLines(c, 'y', LAB_PHI_TICKS, MPL_GRID, 1, []);
    },
    (c) => {
      const { ctx, chartArea: a } = c;
      frame(c, '#222', 1);
      tickMarks(c, 'y', LAB_PHI_TICKS, 5, false, false, '#000');
      LAB_PHI_TICKS.forEach((v) => drawParts(ctx, [{ t: String(v), s: 16.5 }], MPL, a.left - 8, c.scales.y.getPixelForValue(v), 'right', 0, '#111'));
      mplXAxis(c, withXLabel);
      drawParts(ctx, [{ t: '\u2212', s: 17 }, { t: 'ϕ', s: 17, it: true }, { t: 'app', s: 12, it: true, dy: 5 }, { t: ' (mrad)', s: 17 }], MPL, 448, (a.top + a.bottom) / 2, 'center', -Math.PI / 2, '#111');
      if (cbar) drawColorbar(ctx);
    });
}

function ChartCanvas({ make }: { make: () => any }) {
  const ref = useRef<HTMLCanvasElement>(null);
  useEffect(() => {
    const chart = new Chart(ref.current as HTMLCanvasElement, make());
    return () => chart.destroy();
  }, []);
  return <canvas ref={ref} width={W} height={H} style={{ position: 'absolute', left: 0, top: 0, width: W, height: H }} />;
}

export default function App() {
  return (
    <div style={{ position: 'absolute', left: 0, top: 0, width: W, height: H, background: '#fff', overflow: 'hidden' }}>
      <ChartCanvas make={configA1} />
      <ChartCanvas make={configA2} />
      <ChartCanvas make={() => labRho(B1, SOLID_TEMP, SOLID_RHO, 298, 32000, 'Laboratory data (solid rock sample)', 393, false, true)} />
      <ChartCanvas make={() => labPhi(B2, SOLID_TEMP, SOLID_PHI, 0.75, false, true)} />
      <ChartCanvas make={() => labRho(C1, LOOSE_TEMP, LOOSE_RHO, 320, 31300, 'Laboratory data (loose sediment sample)', 660, true, false)} />
      <ChartCanvas make={() => labPhi(C2, LOOSE_TEMP, LOOSE_PHI, 1.1, true, false)} />
    </div>
  );
}
